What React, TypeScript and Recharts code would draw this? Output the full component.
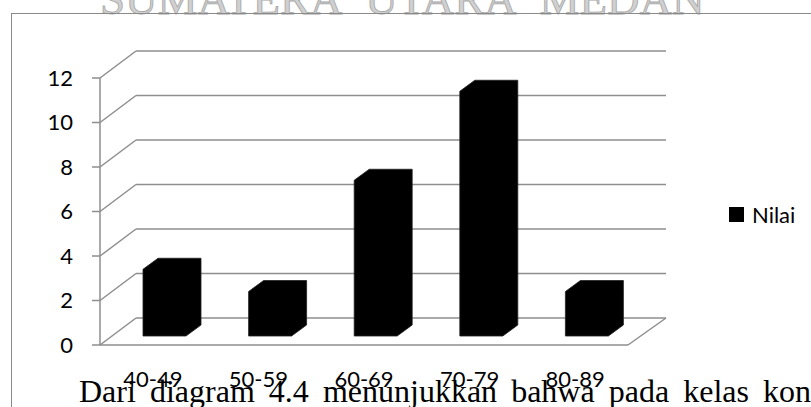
import { BarChart, Bar, XAxis, YAxis, CartesianGrid, Legend } from 'recharts';

const kelas = ['40-49', '50-59', '60-69', '70-79', '80-89'];
const nilai = [3, 2, 7, 11, 2];
const yTicks = [0, 2, 4, 6, 8, 10, 12];
const edgeTicks = [0, 1, 2, 3, 4, 5];

const data = kelas.map((k, i) => ({ kelas: k, edge: i + 0.5, nilai: nilai[i] }));

const GRID = '#8e8e8e';
const FONT = 'Lato, "Noto Sans", sans-serif';

// depth of the back wall relative to the front plane
const WALL_DX = 36;
const WALL_DY = 27;
// bar sits a third of the way into the floor, and is this deep
const BAR_SHIFT_X = 12;
const BAR_SHIFT_Y = 9;
const BAR_DX = 15;
const BAR_DY = 11;

function WallLine(p: any) {
  const floor = Math.abs(p.y1 - (p.y + p.height)) < 1;
  const bx1 = p.x1 + WALL_DX;
  const bx2 = p.x2 + WALL_DX + 2;
  const by = p.y1 - WALL_DY;
  return (
    <g key={p.key}>
      <line x1={p.x1} y1={p.y1} x2={bx1} y2={by} stroke={GRID} strokeWidth={1.5} />
      <line x1={bx1} y1={by} x2={bx2} y2={by} stroke={GRID} strokeWidth={1.5} />
      {floor && <line x1={p.x2} y1={p.y1} x2={bx2} y2={by} stroke={GRID} strokeWidth={1.5} />}
    </g>
  );
}

function Box3D(p: any) {
  const { x, y, width: w, height: h } = p;
  if (h <= 0) return null;
  const fx = x + BAR_SHIFT_X;
  const fy = y - BAR_SHIFT_Y;
  const pts = [
    [fx, fy],
    [fx + BAR_DX, fy - BAR_DY],
    [fx + w + BAR_DX, fy - BAR_DY],
    [fx + w + BAR_DX, fy + h - BAR_DY],
    [fx + w, fy + h],
    [fx, fy + h],
  ]
    .map((q) => q.join(','))
    .join(' ');
  return <polygon points={pts} fill="#000" stroke="#222" strokeWidth={0.8} />;
}

function LegendBox() {
  return (
    <div style={{ display: 'flex', alignItems: 'center', fontFamily: FONT, fontSize: 22, color: '#000' }}>
      <span style={{ width: 15, height: 15, background: '#000', marginRight: 8 }} />
      Nilai
    </div>
  );
}

export default function App() {
  return (
    <div style={{ position: 'absolute', left: 0, top: 0, width: 811, height: 407, overflow: 'hidden', background: '#fff' }}>
      <svg width={811} height={20} style={{ position: 'absolute', left: 0, top: 0 }}>
        <text
          x={100}
          y={14}
          fontFamily='"Liberation Serif", "Times New Roman", serif'
          fontSize={45}
          wordSpacing={14}
          fill="#d0d0d0"
          stroke="#a6a6a6"
          strokeWidth={0.8}
        >
          SUMATERA UTARA MEDAN
        </text>
      </svg>
      <div
        style={{
          position: 'absolute',
          left: 11,
          top: 13,
          width: 820,
          height: 420,
          borderTop: '1.5px solid #8a8a8a',
          borderLeft: '1.5px solid #8a8a8a',
        }}
      />
      <div style={{ position: 'absolute', left: 0, top: 0 }}>
        <BarChart
          width={811}
          height={407}
          data={data}
          margin={{ top: 78, right: 183, bottom: 32, left: 40 }}
          barSize={43}
        >
          <CartesianGrid vertical={false} horizontal={WallLine} />
          <XAxis
            dataKey="kelas"
            height={30}
            axisLine={{ stroke: GRID, strokeWidth: 1.5 }}
            tickLine={false}
            tickMargin={20}
            tick={{ fill: '#000', fontFamily: FONT, fontSize: 22 }}
          />
          <XAxis
            xAxisId="edge"
            dataKey="edge"
            type="number"
            domain={[0, 5]}
            ticks={edgeTicks}
            height={0}
            axisLine={false}
            tick={false}
            tickSize={7}
            tickLine={{ stroke: GRID, strokeWidth: 1.5 }}
          />
          <YAxis
            domain={[0, 12]}
            ticks={yTicks}
            width={60}
            axisLine={{ stroke: GRID, strokeWidth: 1.5 }}
            tickLine={{ stroke: GRID, strokeWidth: 1.5 }}
            tickSize={8}
            tickMargin={19}
            tick={{ fill: '#000', fontFamily: FONT, fontSize: 22 }}
          />
          <Legend
            layout="horizontal"
            verticalAlign="middle"
            align="center"
            content={<LegendBox />}
            wrapperStyle={{ left: 729, top: 201, width: 'auto' }}
          />
          <Bar dataKey="nilai" fill="#000" shape={Box3D} isAnimationActive={false} />
        </BarChart>
      </div>
      <div
        style={{
          position: 'absolute',
          left: 79,
          top: 372,
          width: 732,
          fontFamily: '"Liberation Serif", "Times New Roman", serif',
          fontSize: 32,
          lineHeight: '38px',
          color: '#000',
          textAlign: 'justify',
          textAlignLast: 'justify',
          whiteSpace: 'nowrap',
        }}
      >
        Dari diagram 4.4 menunjukkan bahwa pada kelas kon
      </div>
    </div>
  );
}
